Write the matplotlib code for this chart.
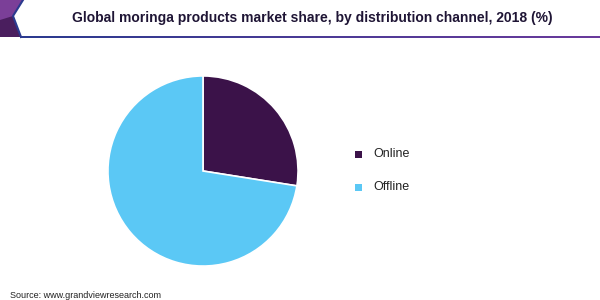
import matplotlib.pyplot as plt
from matplotlib.patches import Polygon
import numpy as np

plt.rcParams['font.family'] = ['Liberation Sans', 'DejaVu Sans']

# Data
channels = ['Online', 'Offline']
shares = [27.5, 72.5]
colors = ['#3b1249', '#5bc8f5']

title = 'Global moringa products market share, by distribution channel, 2018 (%)'
source = 'Source: www.grandviewresearch.com'

fig = plt.figure(figsize=(6, 3), dpi=100)

# pie
ax = fig.add_axes([(203 - 96) / 600, 1 - (171 + 96) / 300, 192 / 600, 192 / 300])
ax.pie(shares, colors=colors, startangle=90, counterclock=False,
       wedgeprops=dict(edgecolor='white', linewidth=1.2))
ax.set_xlim(-1.01, 1.01)
ax.set_ylim(-1.01, 1.01)
ax.set_aspect('equal')
ax.axis('off')

# header decoration and line
deco = fig.add_axes([0, 0, 1, 1], zorder=-1)
deco.set_xlim(0, 600)
deco.set_ylim(300, 0)
deco.axis('off')
grad = np.linspace(0, 1, 100).reshape(1, -1)
deco.imshow(grad, cmap=plt.matplotlib.colors.LinearSegmentedColormap.from_list('g', ['#2b3a8f', '#6a3a9c']),
            extent=(20, 600, 38.5, 36.5), aspect='auto')
deco.add_patch(Polygon([(0, 0), (23, 0), (13, 16), (21, 37), (0, 37)], closed=True,
                       facecolor='#7b3f98', edgecolor='none'))
deco.add_patch(Polygon([(0, 20), (13, 16), (21, 37), (0, 37)], closed=True,
                       facecolor='#4a1e5e', edgecolor='none'))
deco.plot([23, 13, 21], [0, 16, 37], color='#2b3a8f', lw=1.5)

fig.text(0.5 + 12 / 600, 1 - 18 / 300, title, ha='center', va='center',
         fontsize=10, fontweight='bold', color='#1f1535')

# legend
for i, (name, c) in enumerate(zip(channels, colors)):
    y = 1 - (154 + 33 * i) / 300
    fig.patches.append(plt.Rectangle((355 / 600, y - 3.5 / 300), 7 / 600, 7 / 300,
                                     transform=fig.transFigure, facecolor=c, edgecolor='none'))
    fig.text(373 / 600, y, name, ha='left', va='center', fontsize=9, color='#222222')

fig.text(10 / 600, 1 - 295 / 300, source, ha='left', va='center', fontsize=6.5, color='#222222')

fig.savefig('out.png', dpi=100)
